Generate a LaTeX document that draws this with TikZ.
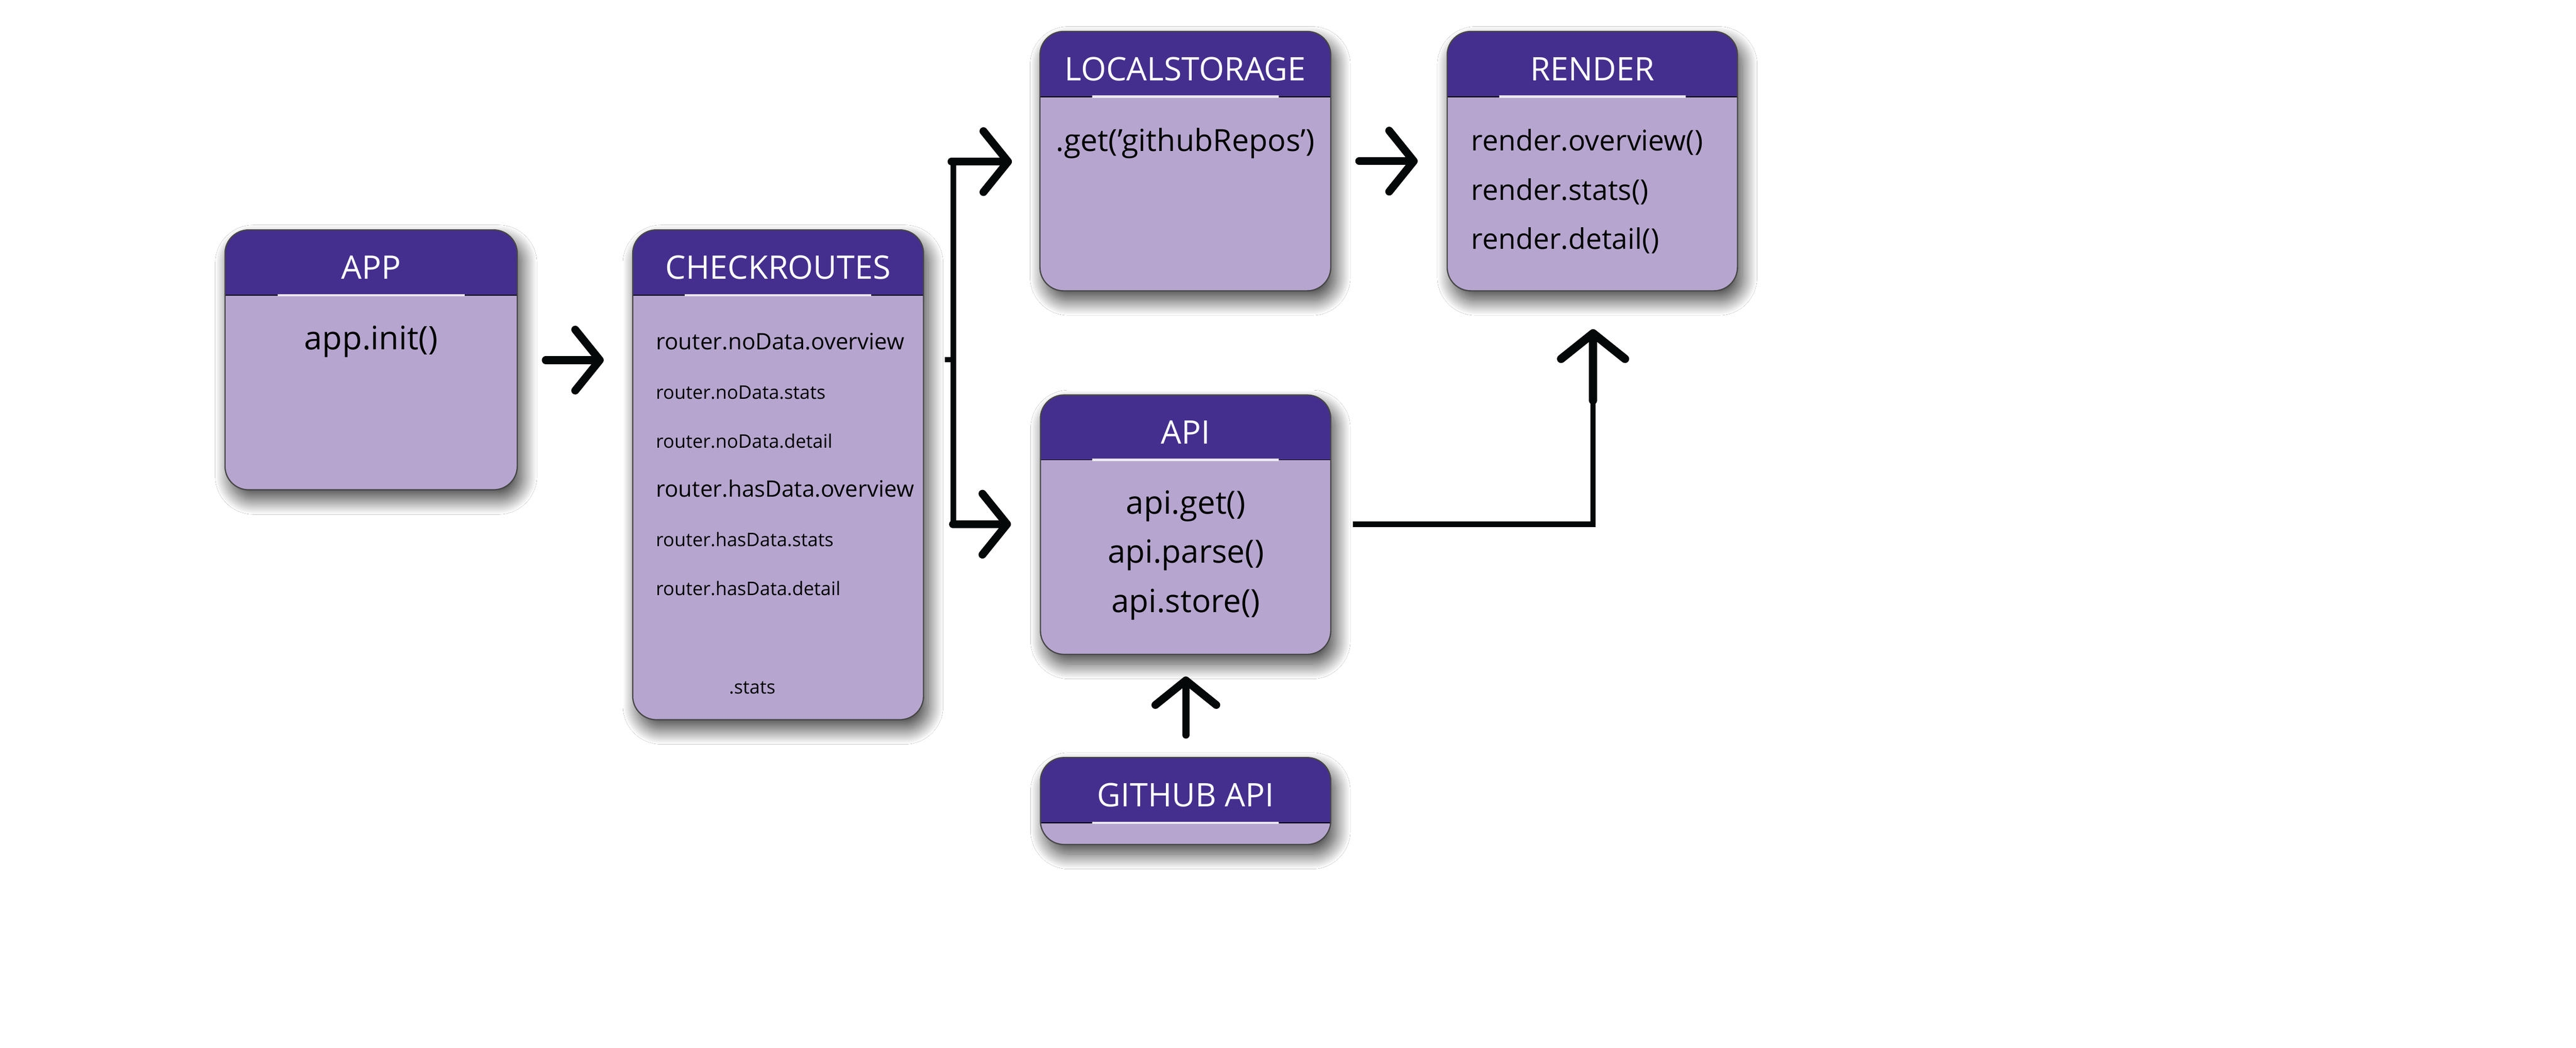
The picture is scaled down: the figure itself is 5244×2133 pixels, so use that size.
\documentclass[tikz,border=0pt]{standalone}
\usepackage{fontspec}
\setmainfont{Open Sans}
\usetikzlibrary{shadows.blur,arrows.meta,calc}
\definecolor{hdrc}{RGB}{69,47,142}
\definecolor{bodyc}{RGB}{182,166,207}
\definecolor{bordc}{RGB}{70,70,70}
\definecolor{ulc}{RGB}{236,232,242}
\definecolor{ink}{RGB}{5,8,8}
\newcommand\umlbox[7]{%
  \node[box, minimum width={#4-#2}, minimum height={#5-#3}] (#1) at ({(#2+#4)/2},{(#3+#5)/2}) {};
  \begin{scope}
    \clip[rounded corners=48pt] (#2,#3) rectangle (#4,#5);
    \fill[hdrc] (#2,#3) rectangle (#4,#6);
  \end{scope}
  \draw[sepline] (#2,#6) -- (#4,#6);
  \draw[uline] ({(#2+#4)/2-190},#6) -- ({(#2+#4)/2+190},#6);
  \draw[bordline] (#2,#3) rectangle (#4,#5);
  \node[titletext] (#1-title) at ({(#2+#4)/2},{#3+100}) {#7};
}
\begin{document}
\begin{tikzpicture}[x=1pt,y=-1pt,
  box/.style={rectangle, rounded corners=48pt, fill=bodyc, draw=none, inner sep=0pt, outer sep=0pt,
    blur shadow={shadow xshift=10pt, shadow yshift=-20pt, shadow blur radius=30pt, shadow blur steps=40, shadow opacity=75}},
  sepline/.style={draw=black, line width=2pt},
  uline/.style={draw=ulc, line width=5pt},
  bordline/.style={draw=bordc, line width=2.5pt, rounded corners=48pt},
  titletext/.style={text=white, anchor=base, inner sep=0pt, font=\fontsize{66}{78}\selectfont},
  bigtxt/.style={anchor=base, inner sep=0pt, font=\fontsize{65}{78}\selectfont},
  midtxt/.style={anchor=base west, inner sep=0pt, font=\fontsize{46}{55}\selectfont},
  smalltxt/.style={anchor=base west, inner sep=0pt, font=\fontsize{38}{46}\selectfont},
  rendtxt/.style={anchor=base west, inner sep=0pt, font=\fontsize{58}{70}\selectfont},
  thinl/.style={draw=ink, line width=11pt},
  arr/.style={draw=ink, line width=16pt, line cap=round,
    -{Straight Barb[length=50pt, width=124pt, line width=16pt, round]}},
  arrup/.style={draw=ink, line width=17pt, line cap=round,
    -{Straight Barb[length=52pt, width=130pt, line width=17pt, round]}},
]
\useasboundingbox (0,0) rectangle (5244,2133);
\fill[white] (0,0) rectangle (5244,2133);

% boxes
\umlbox{app}{458}{468}{1053}{997}{601}{APP}
\umlbox{check}{1288}{468}{1880}{1465}{601}{CHECKROUTES}
\umlbox{ls}{2117}{64}{2709}{592}{197}{LOCALSTORAGE}
\umlbox{render}{2946}{64}{3537}{592}{197}{RENDER}
\umlbox{api}{2118}{804}{2709}{1332}{936}{API}
\umlbox{gh}{2118}{1542}{2709}{1719}{1675}{GITHUB API}

% texts
\node[bigtxt, font=\fontsize{66}{78}\selectfont] (t-app) at (755.5,712) {app.init()};
\node[midtxt] (t-c1) at (1335,712) {router.noData.overview};
\node[smalltxt] (t-c2) at (1335,812) {router.noData.stats};
\node[smalltxt] (t-c3) at (1335,912) {router.noData.detail};
\node[midtxt] (t-c4) at (1335,1012) {router.hasData.overview};
\node[smalltxt] (t-c5) at (1335,1112) {router.hasData.stats};
\node[smalltxt] (t-c6) at (1335,1212) {router.hasData.detail};
\node[smalltxt] (t-c7) at (1484,1412) {.stats};
\node[bigtxt, font=\fontsize{62}{74}\selectfont] (t-ls) at (2413,308) {.get(’githubRepos’)};
\node[rendtxt] (t-r1) at (2995,307) {render.overview()};
\node[rendtxt] (t-r2) at (2995,407) {render.stats()};
\node[rendtxt] (t-r3) at (2995,507) {render.detail()};
\node[bigtxt] (t-a1) at (2414,1046) {api.get()};
\node[bigtxt] (t-a2) at (2414,1146) {api.parse()};
\node[bigtxt] (t-a3) at (2414,1246) {api.store()};

% connector points
\coordinate (appout) at (1111,733);
\coordinate (checkin) at (1229,733);
\coordinate (jstub) at (1923,732);
\coordinate (jmid) at (1941,732);
\coordinate (jtop) at (1941,329);
\coordinate (jbot) at (1941,1067);
\coordinate (lsfrom) at (1937,329);
\coordinate (lsin) at (2060,329);
\coordinate (apifrom) at (1940,1067);
\coordinate (apiin) at (2058,1067);
\coordinate (lsout) at (2767,328);
\coordinate (renderin) at (2886,328);
\coordinate (apiout) at (2754,1067);
\coordinate (rup) at (3243,815);
\coordinate (renderup) at (3243,670);
\coordinate (ghout) at (2414,1496);
\coordinate (apiup) at (2414,1377);

% connectors
\draw[thinl] (jtop) -- (jbot);
\draw[thinl] (jstub) -- (jmid);
\draw[thinl] (apiout) -| (rup);
\draw[arr] (appout) -- (checkin);
\draw[arr] (lsfrom) -- (lsin);
\draw[arr] (apifrom) -- (apiin);
\draw[arr] (lsout) -- (renderin);
\draw[arrup] (rup) -- (renderup);
\draw[arr, line width=15pt] (ghout) -- (apiup);
\end{tikzpicture}
\end{document}
